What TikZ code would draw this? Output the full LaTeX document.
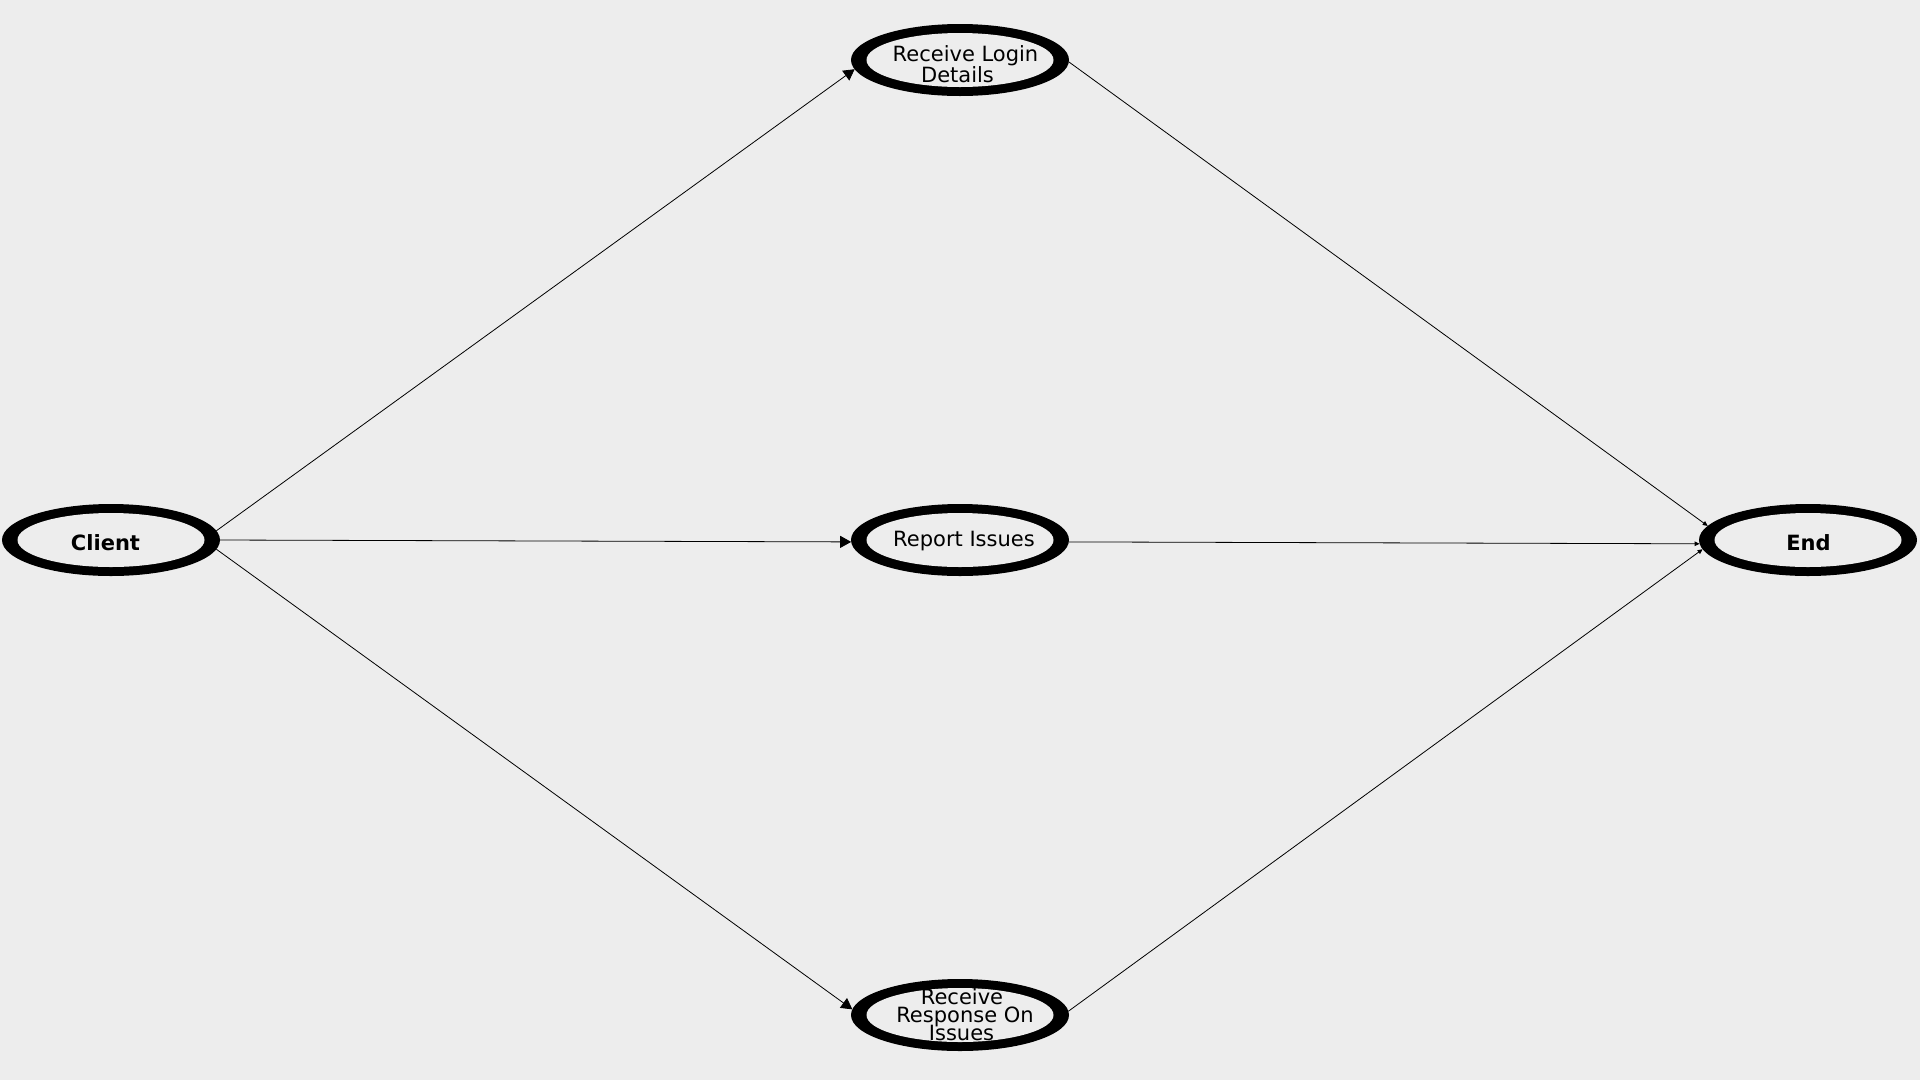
\documentclass[tikz,border=0pt]{standalone}
\usepackage{fontspec}
\setmainfont{DejaVu Sans}
\usetikzlibrary{shapes.geometric,arrows.meta}
\definecolor{bgc}{HTML}{EDEDED}
\newcommand\mytightlines{\lineskiplimit=-50pt\relax\lineskip=0pt\relax}
\tikzset{
  state/.style={ellipse, fill=black, draw=none, minimum width=218pt, minimum height=72pt,
    inner sep=0pt, outer sep=0pt,
    path picture={\fill[bgc] (path picture bounding box.center) ellipse [x radius=93.5pt, y radius=27pt];}},
  lbl/.style={anchor=base, inner sep=0pt, font=\fontsize{21}{21}\selectfont\mytightlines, align=center},
  blbl/.style={lbl, font=\fontsize{21}{21}\selectfont\bfseries},
  edge/.style={draw=black, line width=0.8pt},
  bigtip/.style={edge, -{Triangle[length=11pt,width=12pt]}},
  smalltip/.style={edge, -{Triangle[length=5pt,width=4.5pt]}}
}
\begin{document}
\begin{tikzpicture}[x=1pt,y=-1pt]
\fill[bgc] (0,0) rectangle (1920,1080);
\useasboundingbox (0,0) rectangle (1920,1080);

\node[state] (client) at (111,540) {};
\node[state] (login) at (960,60) {};
\node[state] (report) at (960,540) {};
\node[state] (response) at (960,1015) {};
\node[state] (end) at (1808,540) {};

\node[blbl] (tclient) at (105.5,550) {Client};
\node[blbl] (tend) at (1808.5,550) {End};
\node[lbl] (tlogin) at (965.5,82.5) {Receive Login\\\hspace*{-16pt}Details};
\node[lbl] (treport) at (964,546) {Report Issues};
\node[lbl, font=\fontsize{21}{18}\selectfont\mytightlines] (tresponse) at (965,1040) {\hspace*{-6pt}Receive\\Response On\\\hspace*{-7pt}Issues};

\draw[bigtip] (client.5) -- (login.185);
\draw[bigtip] (client.east) -- (report.181);
\draw[bigtip] (client.-5) -- (response.177);

\draw[smalltip] (login.-1) -- (end.172);
\draw[smalltip] (report.-1.5) -- (end.182);
\draw[smalltip] (response.2) -- (end.185);
\end{tikzpicture}
\end{document}
